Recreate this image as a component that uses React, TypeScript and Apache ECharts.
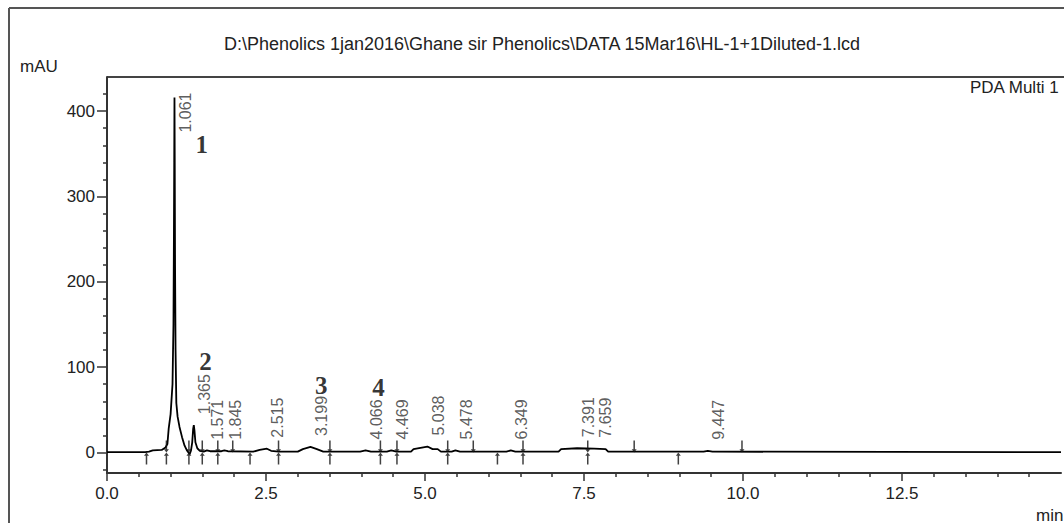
import React, { useEffect, useRef } from "react";
import * as echarts from "echarts";

const titleText =
  "D:\\Phenolics 1jan2016\\Ghane sir Phenolics\\DATA 15Mar16\\HL-1+1Diluted-1.lcd";
const channelName = "PDA Multi 1";
const yUnit = "mAU";
const xUnit = "min";

// chromatogram (retention time in min, absorbance in mAU)
const times = [
  0, 0.6, 0.66, 0.72, 0.86, 0.92, 0.95, 0.97, 1.0, 1.03, 1.045, 1.052, 1.057,
  1.061, 1.065, 1.07, 1.078, 1.09, 1.11, 1.14, 1.18, 1.22, 1.26, 1.3, 1.32,
  1.34, 1.355, 1.365, 1.375, 1.39, 1.42, 1.46, 1.52, 1.571, 1.62, 1.8, 1.845,
  1.9, 2.3, 2.4, 2.515, 2.58, 2.7, 3.0, 3.08, 3.199, 3.3, 3.4, 3.98, 4.066,
  4.15, 4.4, 4.469, 4.55, 4.78, 4.82, 5.038, 5.12, 5.2, 5.25, 5.42, 5.478,
  5.55, 6.28, 6.349, 6.42, 7.1, 7.14, 7.391, 7.659, 7.84, 7.88, 9.38, 9.447,
  9.52, 15,
];
const absorbance = [
  0.5, 0.5, 1, 2.5, 3, 6, 10, 28, 45, 80, 150, 250, 340, 416, 340, 220, 120, 58,
  42, 30, 18, 8, 2, -2, 2, 12, 28, 32, 26, 12, 5, 2, 1, 2.5, 1.5, 1.5, 2.5, 1.5,
  1, 3, 4.5, 2, 1, 1, 4, 6.5, 4, 1, 1, 2.5, 1, 1, 2.5, 1, 1, 4, 7, 4, 4, 1, 1,
  2.5, 1, 1, 2.5, 1, 1, 4, 5, 4.5, 4, 1, 1, 2, 1, 0.5,
];

// detected peaks
const peakTimes = [
  1.061, 1.365, 1.571, 1.845, 2.515, 3.199, 4.066, 4.469, 5.038, 5.478, 6.349,
  7.391, 7.659, 9.447,
];
const peakHeights = [416, 32, 2, 2, 4.5, 6.5, 2.5, 2.5, 7, 2.5, 2.5, 5, 4.5, 2];

// integration marks
const integrationStarts = [
  0.621, 0.934, 1.288, 1.498, 1.742, 2.249, 2.697, 3.505, 4.299, 4.559, 5.357,
  6.139, 6.541, 7.559, 8.983,
];
const integrationEnds = [
  0.934, 1.288, 1.498, 1.742, 1.977, 2.697, 3.505, 4.299, 4.559, 5.357, 5.759,
  6.541, 7.559, 8.289, 9.984,
];

// numbered compound annotations
const compoundNumbers = ["1", "2", "3", "4"];
const compoundPositions = [
  [1.49, 361],
  [1.55, 107],
  [3.37, 78],
  [4.27, 76],
];

const xMajorTicks = [0, 2.5, 5, 7.5, 10, 12.5];
const yMajorTicks = [0, 100, 200, 300, 400];
const yMinorTicks = [
  -20, 20, 40, 60, 80, 120, 140, 160, 180, 220, 240, 260, 280, 320, 340, 360,
  380, 420,
];

const SANS = "'Liberation Sans', Arial, sans-serif";
const SERIF = "'Liberation Serif', 'Times New Roman', serif";
const AXIS_COLOR = "#333";
const TEXT_COLOR = "#222";

const UP_ARROW = "path://M0,3 L2,0 L4,3 L2.6,3 L2.6,11 L1.4,11 L1.4,3 Z";
const DOWN_TICK = "path://M1.4,0 L2.6,0 L2.6,8 L4,8 L2,11 L0,8 L1.4,8 Z";

export default function App() {
  const ref = useRef<HTMLDivElement>(null);

  useEffect(() => {
    if (!ref.current) return;
    const chart = echarts.init(ref.current, undefined, { renderer: "svg" });

    const yBase = {
      type: "value" as const,
      min: -24,
      max: 440,
      position: "left" as const,
      splitLine: { show: false },
    };

    const option: any = {
      animation: false,
      grid: { left: 107, top: 77, right: -1.5, bottom: 50 },
      xAxis: {
        type: "value",
        min: 0,
        max: 15,
        interval: 2.5,
        axisLine: {
          show: true,
          onZero: false,
          lineStyle: { color: AXIS_COLOR, width: 2 },
        },
        axisTick: {
          show: true,
          length: 8,
          customValues: xMajorTicks,
          lineStyle: { color: AXIS_COLOR, width: 1.5 },
        },
        minorTick: {
          show: true,
          splitNumber: 5,
          length: 4,
          lineStyle: { color: AXIS_COLOR, width: 1.5 },
        },
        splitLine: { show: false },
        minorSplitLine: { show: false },
        axisLabel: {
          margin: 12,
          fontSize: 17,
          color: TEXT_COLOR,
          fontFamily: SANS,
          formatter: (v: number) => (v >= 15 ? "" : v.toFixed(1)),
        },
      },
      yAxis: [
        {
          ...yBase,
          axisLine: {
            show: true,
            onZero: false,
            lineStyle: { color: AXIS_COLOR, width: 2 },
          },
          axisTick: {
            show: true,
            length: 10,
            customValues: yMajorTicks,
            lineStyle: { color: AXIS_COLOR, width: 1.5 },
          },
          axisLabel: {
            customValues: yMajorTicks,
            margin: 12,
            fontSize: 17,
            color: TEXT_COLOR,
            fontFamily: SANS,
          },
        },
        {
          ...yBase,
          axisLine: { show: false },
          axisTick: {
            show: true,
            length: 4,
            customValues: yMinorTicks,
            lineStyle: { color: AXIS_COLOR, width: 1.5 },
          },
          axisLabel: { show: false },
        },
      ],
      series: [
        {
          type: "line",
          name: channelName,
          data: times.map((t, i) => [t, absorbance[i]]),
          showSymbol: false,
          symbol: "none",
          lineStyle: { color: "#000", width: 1.8 },
          z: 3,
        },
        {
          type: "scatter",
          data: integrationStarts.map((t) => [t, 0]),
          symbol: UP_ARROW,
          symbolSize: [5, 12],
          symbolOffset: [0, 6],
          itemStyle: { color: "#111" },
          silent: true,
          z: 4,
        },
        {
          type: "scatter",
          data: integrationEnds.map((t) => [t, 0]),
          symbol: DOWN_TICK,
          symbolSize: [5, 12],
          symbolOffset: [0, -6],
          itemStyle: { color: "#111" },
          silent: true,
          z: 4,
        },
        {
          type: "scatter",
          data: peakTimes.map((t, i) =>
            i === 0
              ? {
                  value: [t, peakHeights[i]],
                  label: { align: "right", position: [12, -4] },
                }
              : { value: [t, peakHeights[i]] }
          ),
          symbolSize: 2,
          itemStyle: { color: "rgba(0,0,0,0)" },
          silent: true,
          z: 5,
          label: {
            show: true,
            rotate: 90,
            position: [12, -10],
            align: "left",
            verticalAlign: "middle",
            fontSize: 16,
            fontFamily: SANS,
            color: "#333",
            formatter: (p: any) => p.value[0].toFixed(3),
          },
        },
        {
          type: "scatter",
          data: compoundPositions,
          symbolSize: 2,
          itemStyle: { color: "rgba(0,0,0,0)" },
          silent: true,
          z: 6,
          label: {
            show: true,
            position: "inside",
            fontSize: 25,
            fontWeight: "bold",
            fontFamily: SERIF,
            color: "#000",
            formatter: (p: any) => compoundNumbers[p.dataIndex],
          },
        },
      ],
      graphic: [
        {
          type: "line",
          shape: { x1: 9, y1: 8, x2: 1070, y2: 8 },
          style: { stroke: "#555", lineWidth: 2 },
          silent: true,
        },
        {
          type: "line",
          shape: { x1: 9, y1: 8, x2: 9, y2: 530 },
          style: { stroke: "#555", lineWidth: 2 },
          silent: true,
        },
        {
          type: "line",
          shape: { x1: 107, y1: 77, x2: 1070, y2: 77 },
          style: { stroke: "#444", lineWidth: 2 },
          silent: true,
        },
        {
          type: "text",
          x: 542,
          y: 44,
          style: {
            text: titleText,
            align: "center",
            verticalAlign: "middle",
            textAlign: "center",
            textVerticalAlign: "middle",
            fontSize: 18,
            fontFamily: SANS,
            fill: TEXT_COLOR,
          },
        },
        {
          type: "text",
          x: 20,
          y: 66,
          style: {
            text: yUnit,
            verticalAlign: "middle",
            textVerticalAlign: "middle",
            fontSize: 17,
            fontFamily: SANS,
            fill: TEXT_COLOR,
          },
        },
        {
          type: "text",
          x: 970,
          y: 87,
          style: {
            text: channelName,
            verticalAlign: "middle",
            textVerticalAlign: "middle",
            fontSize: 17,
            fontFamily: SANS,
            fill: TEXT_COLOR,
          },
        },
        {
          type: "text",
          x: 1036,
          y: 515,
          style: {
            text: xUnit,
            verticalAlign: "middle",
            textVerticalAlign: "middle",
            fontSize: 17,
            fontFamily: SANS,
            fill: TEXT_COLOR,
          },
        },
      ],
    };

    chart.setOption(option);
    return () => chart.dispose();
  }, []);

  return (
    <div
      ref={ref}
      style={{ position: "absolute", left: 0, top: 0, width: 1064, height: 523, background: "#fff" }}
    />
  );
}
